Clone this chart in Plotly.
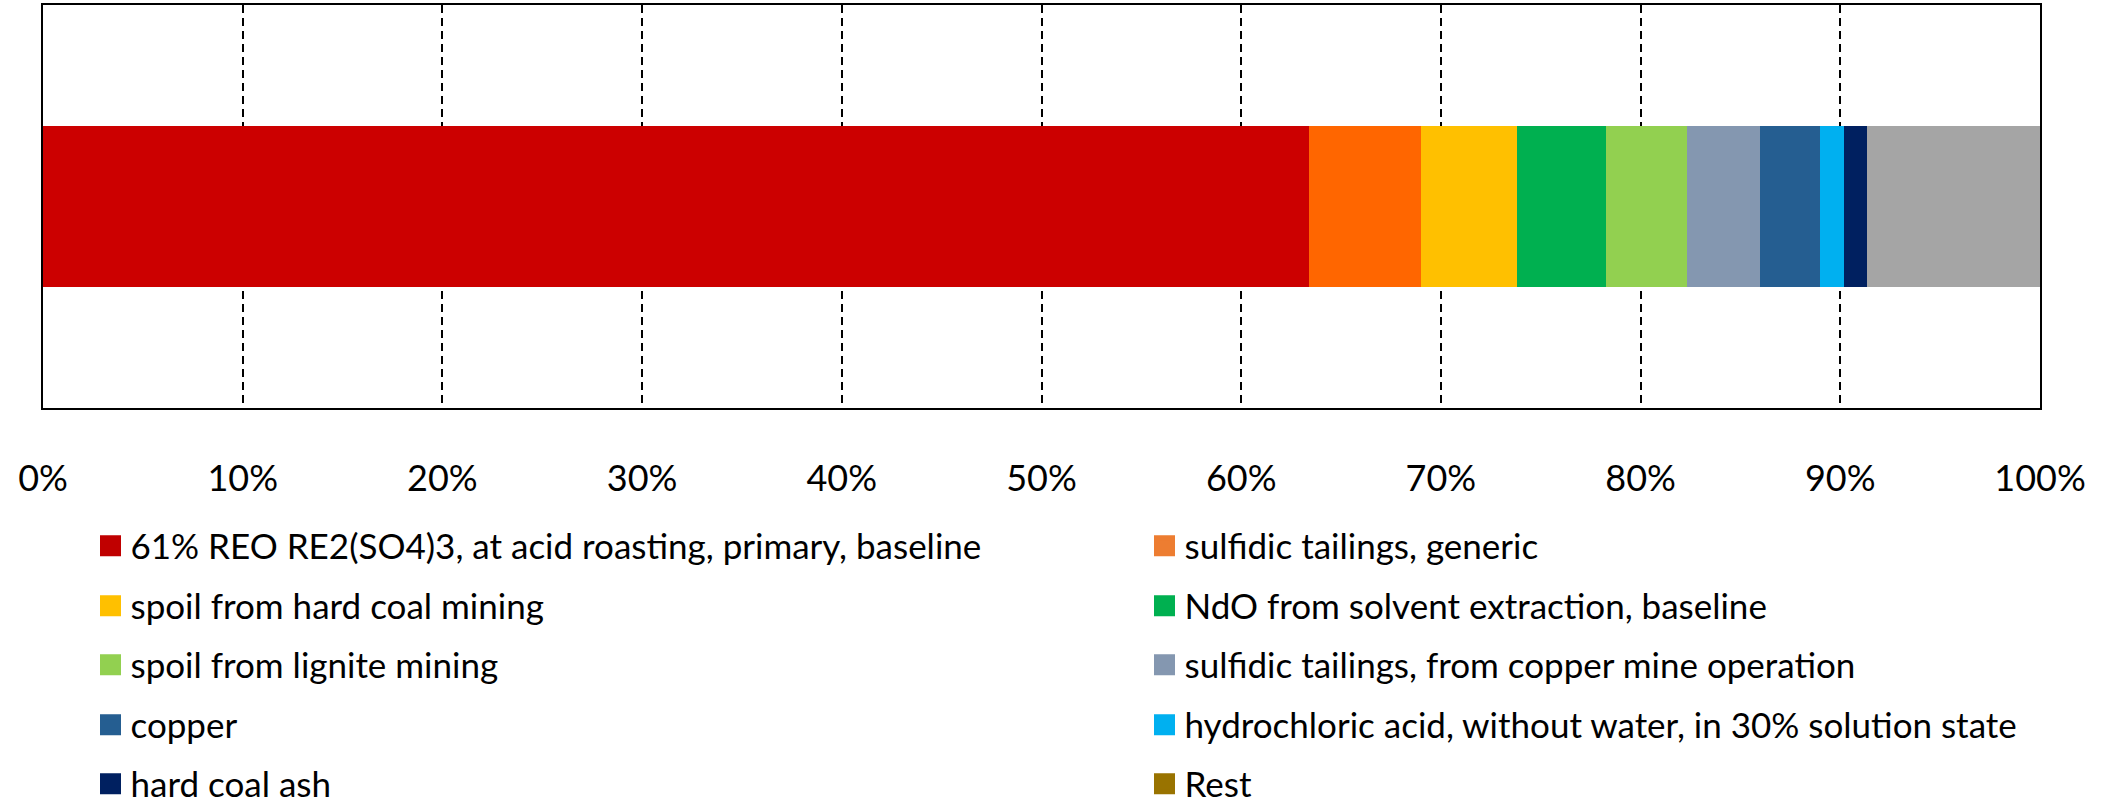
import plotly.graph_objects as go

# Contributions (% of total), left to right along the stacked bar
categories = [
    "61% REO RE2(SO4)3, at acid roasting, primary, baseline",
    "sulfidic tailings, generic",
    "spoil from hard coal mining",
    "NdO from solvent extraction, baseline",
    "spoil from lignite mining",
    "sulfidic tailings, from copper mine operation",
    "copper",
    "hydrochloric acid, without water, in 30% solution state",
    "hard coal ash",
    "Rest",
]
shares = [63.4, 5.6, 4.8, 4.45, 4.05, 3.7, 3.0, 1.2, 1.15, 8.65]
bar_colors = ["#CC0000", "#FF6600", "#FFC000", "#00B050", "#92D050",
              "#8497B0", "#255E91", "#00B0F0", "#002060", "#A5A5A5"]
legend_colors = ["#C00000", "#ED7D31", "#FFC000", "#00B050", "#92D050",
                 "#8497B0", "#255E91", "#00B0F0", "#002060", "#997300"]
tick_values = [0, 10, 20, 30, 40, 50, 60, 70, 80, 90, 100]
tick_labels = ["0%", "10%", "20%", "30%", "40%", "50%",
               "60%", "70%", "80%", "90%", "100%"]

FONT = "Lato, 'Open Sans', sans-serif"
W, H = 2111, 806

fig = go.Figure()

for name, val, col in zip(categories, shares, bar_colors):
    fig.add_trace(go.Bar(
        x=[val], y=[""], orientation="h", name=name,
        marker=dict(color=col, line=dict(width=0)),
        showlegend=False, hoverinfo="name+x",
    ))

# Legend: two columns filled row by row; each entry has its own legend box
row_centers = [546, 606, 665, 725, 784]
col_lefts = [90.5, 1144.5]

legend_layouts = {}
for i, (name, col) in enumerate(zip(categories, legend_colors)):
    key = "legend" if i == 0 else f"legend{i + 1}"
    fig.add_trace(go.Scatter(
        x=[None], y=[None], mode="markers", name=name, legend=key,
        marker=dict(symbol="square", size=16, color=col,
                    line=dict(color=col, width=5)),
        showlegend=True, hoverinfo="skip",
    ))
    r, c = divmod(i, 2)
    legend_layouts[key] = dict(
        xref="container", yref="container",
        x=col_lefts[c] / W, y=1 - row_centers[r] / H,
        xanchor="left", yanchor="middle",
        orientation="h", bgcolor="rgba(0,0,0,0)", borderwidth=0,
        font=dict(family=FONT, size=35, color="#000000"),
    )

fig.update_layout(
    width=W, height=H,
    margin=dict(l=43, r=71, t=5, b=398),
    paper_bgcolor="white", plot_bgcolor="white",
    barmode="stack", bargap=0.6,
    font=dict(family=FONT, color="#000000"),
    **legend_layouts,
)

fig.update_xaxes(
    range=[0, 100], tickmode="array", tickvals=tick_values, ticktext=tick_labels,
    showgrid=True, gridcolor="#000000", gridwidth=1.5, griddash="8px,5px",
    showline=True, linecolor="#000000", linewidth=2, mirror=True,
    zeroline=False, ticks="", ticklabelstandoff=38, automargin=False,
    tickfont=dict(family=FONT, size=36, color="#000000"),
    fixedrange=True,
)
fig.update_yaxes(
    range=[-0.5, 0.5], showticklabels=False, showgrid=False,
    showline=True, linecolor="#000000", linewidth=2, mirror=True,
    zeroline=False, ticks="", fixedrange=True,
)

fig.write_html("out.html")
